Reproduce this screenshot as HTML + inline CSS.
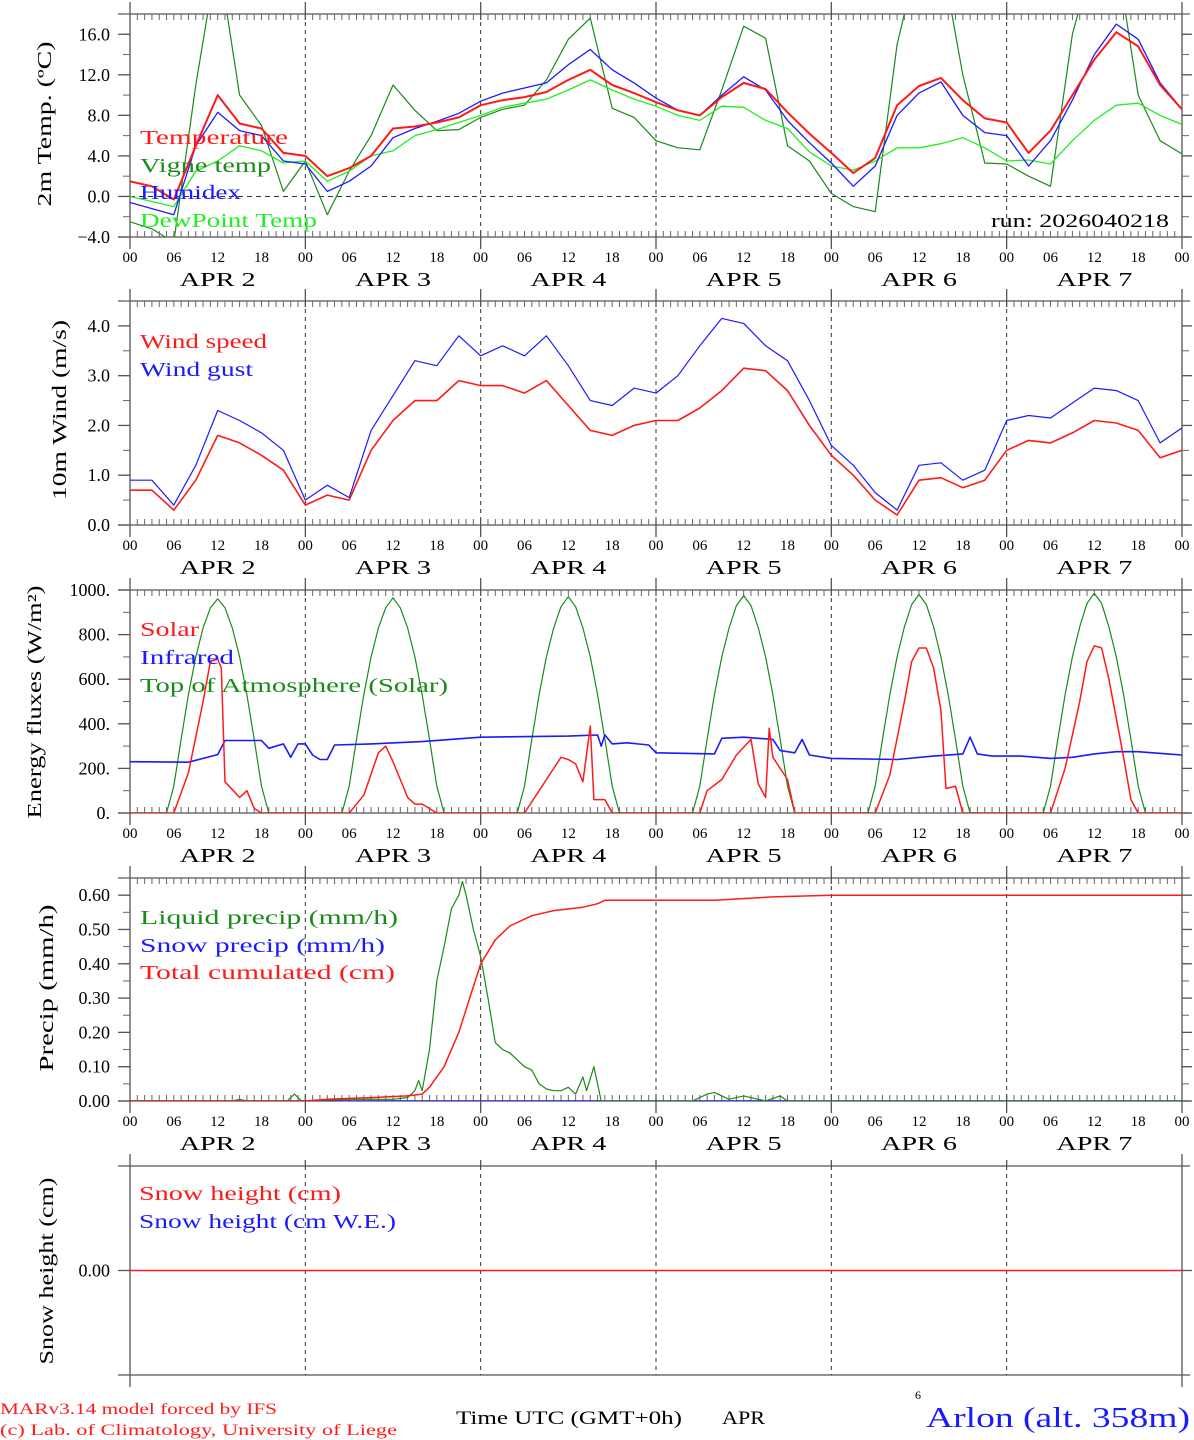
<!DOCTYPE html>
<html><head><meta charset="utf-8"><style>
html,body{margin:0;padding:0;background:#fff;}
svg{display:block;font-family:"Liberation Serif",serif;}
</style></head><body>
<svg id="chart" width="1194" height="1440" viewBox="0 0 1194 1440" xmlns="http://www.w3.org/2000/svg"></svg>
<script>
// ---- data ----
const hours3 = [0,3,6,9,12,15,18,21,24,27,30,33,36,39,42,45,48,51,54,57,60,63,66,69,72,75,78,81,84,87,90,93,96,99,102,105,108,111,114,117,120,123,126,129,132,135,138,141,144];
const dayLabels = ["APR  2","APR  3","APR  4","APR  5","APR  6","APR  7"];
const hourTickLabels = ["00","06","12","18"];
const tempVals = [1.5,1.0,-0.3,5.0,10.0,7.2,6.7,4.3,4.0,2.0,2.8,4.0,6.7,6.9,7.3,7.8,9.0,9.5,9.8,10.3,11.5,12.5,11.0,10.2,9.3,8.5,8.0,9.8,11.2,10.6,8.3,6.2,4.3,2.3,3.8,9.0,10.9,11.7,9.5,7.7,7.3,4.3,6.5,10.0,13.5,16.2,14.8,11.0,8.6];
const vigneVals = [-2.5,-3.2,-4.5,11,24,10.0,7.0,0.5,3.5,-1.8,2.5,6.0,11.0,8.5,6.5,6.6,7.8,8.6,9.0,11.5,15.5,17.6,8.7,7.8,5.5,4.8,4.6,10.5,16.8,15.6,5.0,3.5,0.3,-1.0,-1.5,15,24,24,12,3.3,3.2,2.0,1.0,16,24,24,10,5.5,4.2];
const humidexVals = [-0.6,-1.2,-1.8,5.0,8.3,6.5,6.0,3.5,3.2,0.5,1.5,3.0,5.8,6.7,7.4,8.2,9.4,10.2,10.7,11.2,13.0,14.5,12.5,11.2,9.7,8.5,8.0,10.0,11.8,10.5,7.5,5.3,3.3,1.0,3.0,8.0,10.2,11.3,8.0,6.3,6.0,3.0,5.5,9.5,14.0,17.0,15.5,11.2,8.6];
const dewVals = [0,-0.5,-1.0,2.5,3.5,5.0,4.5,3.3,3.5,1.5,2.5,4.0,4.5,6.0,6.6,7.3,8.0,8.8,9.2,9.6,10.5,11.5,10.5,9.6,8.9,8.0,7.5,8.9,8.8,7.5,6.7,4.4,3.0,2.6,3.5,4.8,4.8,5.2,5.8,4.8,3.5,3.6,3.2,5.5,7.5,9.0,9.2,8.0,7.1];
const windVals = [0.7,0.7,0.3,0.9,1.8,1.65,1.4,1.1,0.4,0.6,0.5,1.5,2.1,2.5,2.5,2.9,2.8,2.8,2.65,2.9,2.4,1.9,1.8,2.0,2.1,2.1,2.35,2.7,3.15,3.1,2.7,2.0,1.4,1.0,0.5,0.2,0.9,0.95,0.75,0.9,1.5,1.7,1.65,1.85,2.1,2.05,1.9,1.35,1.5];
const gustVals = [0.9,0.9,0.4,1.2,2.3,2.1,1.85,1.5,0.5,0.8,0.55,1.9,2.6,3.3,3.2,3.8,3.4,3.6,3.4,3.8,3.2,2.5,2.4,2.75,2.65,3.0,3.6,4.15,4.05,3.6,3.3,2.5,1.6,1.2,0.65,0.3,1.2,1.25,0.9,1.1,2.1,2.2,2.15,2.45,2.75,2.7,2.5,1.65,1.95];
const toaHours = [0,5,6,7,8,9,10,11,12,13,14,15,16,17,18,19,29,30,31,32,33,34,35,36,37,38,39,40,41,42,43,53,54,55,56,57,58,59,60,61,62,63,64,65,66,67,77,78,79,80,81,82,83,84,85,86,87,88,89,90,91,101,102,103,104,105,106,107,108,109,110,111,112,113,114,115,125,126,127,128,129,130,131,132,133,134,135,136,137,138,139,144];
const toaVals = [0,0,120,330,530,700,830,920,960,920,830,700,530,330,120,0,0,120,330,530,700,830,920,965,920,830,700,530,330,120,0,0,120,330,530,700,830,925,970,925,830,700,530,330,120,0,0,120,330,530,700,830,930,975,930,830,700,530,330,120,0,0,120,330,530,700,835,935,980,935,835,700,530,330,120,0,0,120,330,530,700,835,940,985,940,835,700,530,330,120,0,0];
const solarHours = [0,6,8,10,11,12,12.5,13,15,16,17,18,30,32,34,35,36,38,39,40,42,54,56,58,59,60,61,62,63,63.5,65,66,78,79,81,83,85,86,87,87.5,88,90,91,102,104,106,107,108,109,110,111,111.7,113,114,126,128,130,131,132,133,134,136,137,138,144];
const solarVals = [0,0,180,500,680,690,650,140,70,100,20,0,0,80,270,300,230,70,40,40,0,0,100,200,250,240,220,140,390,60,60,0,0,100,150,260,330,130,70,380,250,150,0,0,170,500,680,740,740,650,460,110,120,0,0,200,500,680,750,740,600,250,60,0,0];
const irHours = [0,8,12,13,18,19,21,22,23,24,25,26,27,28,33,40,48,60,64,64.5,65,66,68,71,72,80,81,84,88,89,91,92,93,96,105,110,114,115,116,118,122,126,129,132,135,138,142,144];
const irVals = [230,228,262,325,325,290,310,250,310,310,260,240,240,305,310,320,340,345,350,300,350,310,315,305,270,265,335,340,330,280,270,330,260,245,240,255,265,340,265,255,255,245,250,265,275,275,265,260];
const liqHours = [0,14,15,16,21.5,22.5,23.5,30,36,38,39,39.5,40,41,42,43,44,45,45.5,46,47,48,49,50,51,52,53,54,55,56,57,58,59,60,61,62,62.5,63.5,64.5,77,79,80,81,82,83,84,86,87,89,90,144];
const liqVals = [0,0,0.005,0,0,0.02,0,0.005,0.005,0.01,0.03,0.06,0.03,0.15,0.35,0.45,0.56,0.6,0.64,0.6,0.5,0.42,0.3,0.17,0.15,0.14,0.12,0.1,0.09,0.05,0.035,0.03,0.03,0.04,0.02,0.07,0.03,0.1,0,0,0.02,0.025,0.015,0.005,0.01,0.015,0.005,0,0.015,0,0];
const cumHours = [0,24,27,33,38,40,41,43,45,46.5,48,50,52,55,58,62,64,65,80,88,96,144];
const cumVals = [0,0,0.005,0.01,0.015,0.02,0.04,0.1,0.2,0.3,0.4,0.47,0.51,0.54,0.555,0.565,0.575,0.585,0.585,0.595,0.6,0.6];
const snowPrecipHours = [0,144];
const snowPrecipVals = [0,0];
const snowHours = [0,144];
const snowVals = [0,0];

// ---- helpers ----
const NS="http://www.w3.org/2000/svg";
const svg=document.getElementById('chart');
const X0=130, X1=1182;
function X(h){return X0+h*(X1-X0)/144;}
function mk(tag,attrs,parent){const e=document.createElementNS(NS,tag);for(const k in attrs)e.setAttribute(k,attrs[k]);(parent||svg).appendChild(e);return e;}
function txt(s,x,y,size,fill,anchor,len,parent){const t=mk('text',{x:x,y:y,'font-size':size,fill:fill||'#000','text-anchor':anchor||'start'},parent);if(len){t.setAttribute('textLength',len);t.setAttribute('lengthAdjust','spacingAndGlyphs');}t.textContent=s;return t;}

const panels=[
 {id:'temp',top:14,bot:237,min:-4,max:18,major:[-4,0,4,8,12,16],minorStep:2,fmt:v=>v.toFixed(1),zero:true,hourLabels:true},
 {id:'wind',top:301,bot:525,min:0,max:4.5,major:[0,1,2,3,4],minorStep:0.5,fmt:v=>v.toFixed(1),hourLabels:true},
 {id:'flux',top:590,bot:813,min:0,max:1000,major:[0,200,400,600,800,1000],minorStep:100,fmt:v=>v+'.',hourLabels:true},
 {id:'precip',top:878,bot:1101,min:0,max:0.65,major:[0,0.1,0.2,0.3,0.4,0.5,0.6],minorStep:0.05,fmt:v=>v.toFixed(2),hourLabels:true},
 {id:'snow',top:1166,bot:1375,min:-1,max:1,major:[0],minorStep:0,fmt:v=>v.toFixed(2),hourLabels:false,noHourTicks:true}
];
function Y(p,v){return p.bot-(v-p.min)/(p.max-p.min)*(p.bot-p.top);}

panels.forEach((p,pi)=>{
  const g=mk('g',{});
  
  
  const cp=mk('clipPath',{id:'clip'+pi},g);
  mk('rect',{x:X0,y:p.top,width:X1-X0,height:p.bot-p.top},cp);
  // axes
  mk('line',{x1:118,y1:p.top,x2:1190,y2:p.top,stroke:'#555','stroke-width':1.3},g);
  mk('line',{x1:118,y1:p.bot,x2:1190,y2:p.bot,stroke:'#555','stroke-width':1.3},g);
  mk('line',{x1:X0,y1:p.top-12,x2:X0,y2:p.bot+12,stroke:'#555','stroke-width':1.3},g);
  mk('line',{x1:X1,y1:p.top-12,x2:X1,y2:p.bot+12,stroke:'#555','stroke-width':1.3},g);
  // day dividers
  for(let d=1;d<6;d++){
    const l=mk('line',{x1:X(24*d),y1:p.top,x2:X(24*d),y2:p.bot,stroke:'#333','stroke-width':1,'stroke-dasharray':'4,4'},g);
    
    
    if(!p.noHourTicks){
      mk('line',{x1:X(24*d),y1:p.top-12,x2:X(24*d),y2:p.top+6,stroke:'#555','stroke-width':1.3},g);
      mk('line',{x1:X(24*d),y1:p.bot-6,x2:X(24*d),y2:p.bot+12,stroke:'#555','stroke-width':1.3},g);
    } else {
      mk('line',{x1:X(24*d),y1:p.top-6,x2:X(24*d),y2:p.top,stroke:'#555','stroke-width':1.3},g);
    }
  }
  if(!p.noHourTicks){
    for(let h=1;h<144;h++){
      if(h%24===0)continue;
      mk('line',{x1:X(h),y1:p.top,x2:X(h),y2:p.top+6,stroke:'#666','stroke-width':1},g);
      mk('line',{x1:X(h),y1:p.bot-6,x2:X(h),y2:p.bot,stroke:'#666','stroke-width':1},g);
    }
  }
  // y ticks
  if(p.minorStep){
    for(let v=p.min;v<=p.max+1e-9;v+=p.minorStep){
      const y=Y(p,v);
      mk('line',{x1:123,y1:y,x2:X0,y2:y,stroke:'#666','stroke-width':1},g);
      mk('line',{x1:X1,y1:y,x2:1189,y2:y,stroke:'#666','stroke-width':1},g);
    }
  }
  p.major.forEach(v=>{
    const y=Y(p,v);
    mk('line',{x1:118,y1:y,x2:X0,y2:y,stroke:'#555','stroke-width':1.3},g);
    mk('line',{x1:X1,y1:y,x2:1192,y2:y,stroke:'#555','stroke-width':1.3},g);
    const t=txt(p.fmt(v).replace('-','\u2212'),110,y+6,18,'#000','end',null,g);
    
    
  });
  if(p.zero){
    const z=mk('line',{x1:X0,y1:Y(p,0),x2:X1,y2:Y(p,0),stroke:'#333','stroke-width':1,'stroke-dasharray':'5,4'},g);
    
    
  }
  if(p.hourLabels){
    for(let d=0;d<6;d++){
      for(let k=0;k<4;k++){
        const t=txt(hourTickLabels[k],X(24*d+6*k),p.bot+25,15,'#000','middle',null,g);
        
        
      }
      const dl=txt(dayLabels[d],X(24*d+12),p.bot+49,20,'#000','middle',76,g);
      
      
    }
    const t=txt('00',X(144),p.bot+25,15,'#000','middle',null,g);
    
    
  }
  p.g=g;p.clip='url(#clip'+pi+')';
});

function series(p,hs,vs,color,width,name){
  const pts=hs.map((h,i)=>X(h).toFixed(1)+','+Y(p,vs[i]).toFixed(1)).join(' ');
  const l=mk('polyline',{points:pts,fill:'none',stroke:color,'stroke-width':width,'stroke-linejoin':'round','clip-path':p.clip},p.g);
  
  
}
const P=panels;
series(P[0],hours3,vigneVals,'#1a8a1a',1.2,'vigne-temp-line');
series(P[0],hours3,dewVals,'#22ee22',1.3,'dewpoint-line');
series(P[0],hours3,humidexVals,'#1a1aff',1.3,'humidex-line');
series(P[0],hours3,tempVals,'#ff1a1a',2,'temperature-line');
series(P[1],hours3,gustVals,'#1a1aff',1.2,'wind-gust-line');
series(P[1],hours3,windVals,'#ff1a1a',1.6,'wind-speed-line');
series(P[2],toaHours,toaVals,'#1a8a1a',1.2,'toa-solar-line');
series(P[2],irHours,irVals,'#1a1aff',1.6,'infrared-line');
series(P[2],solarHours,solarVals,'#ff1a1a',1.5,'solar-line');
series(P[3],snowPrecipHours,snowPrecipVals,'#1a1aff',1.5,'snow-precip-line');
series(P[3],liqHours,liqVals,'#1a8a1a',1.2,'liquid-precip-line');
series(P[3],cumHours,cumVals,'#ff1a1a',1.5,'cumulated-precip-line');
series(P[4],snowHours,snowVals,'#ff1a1a',1.6,'snow-height-line');

// legends
function legend(s,x,y,color,len,name){const t=txt(s,x,y,20,color,'start',len);}
legend('Temperature',140,144,'#ff1a1a',148,'legend-temperature');
legend('Vigne temp',140,172,'#1a8a1a',131,'legend-vigne-temp');
legend('Humidex',140,199,'#1a1aff',101,'legend-humidex');
legend('DewPoint Temp',140,227,'#22ee22',177,'legend-dewpoint');
legend('Wind speed',140,348,'#ff1a1a',127,'legend-wind-speed');
legend('Wind gust',140,376,'#1a1aff',113,'legend-wind-gust');
legend('Solar',140,636,'#ff1a1a',59,'legend-solar');
legend('Infrared',140,664,'#1a1aff',94,'legend-infrared');
legend('Top of Atmosphere (Solar)',140,692,'#1a8a1a',308,'legend-toa');
legend('Liquid precip (mm/h)',140,924,'#1a8a1a',258,'legend-liquid-precip');
legend('Snow precip (mm/h)',140,952,'#1a1aff',245,'legend-snow-precip');
legend('Total cumulated (cm)',140,979,'#ff1a1a',255,'legend-total-cumulated');
legend('Snow height (cm)',139,1200,'#ff1a1a',202,'legend-snow-height');
legend('Snow height (cm W.E.)',139,1228,'#1a1aff',257,'legend-snow-height-we');

// y-axis titles
function ytitle(s,cx,cy,len,name){const t=mk('text',{x:0,y:0,'font-size':20,'text-anchor':'middle',transform:'translate('+cx+','+cy+') rotate(-90)',textLength:len,lengthAdjust:'spacingAndGlyphs'});t.textContent=s;}
ytitle('2m Temp. (\u00BAC)',51,124,165,'y-axis-title-temp');
ytitle('10m Wind (m/s)',66,410,180,'y-axis-title-wind');
ytitle('Energy fluxes (W/m\u00B2)',41,702,233,'y-axis-title-flux');
ytitle('Precip (mm/h)',53,988,167,'y-axis-title-precip');
ytitle('Snow height (cm)',53,1271,187,'y-axis-title-snow');

// misc text
function note(s,x,y,size,color,anchor,len,name){const t=txt(s,x,y,size,color,anchor,len);}
note('run: 2026040218',991,227,19,'#000','start',178,'run-label');
note('MARv3.14 model forced by IFS',0,1414,16,'#ff1a1a','start',277,'model-credit');
note('(c) Lab. of Climatology, University of Liege',0,1435,16,'#ff1a1a','start',397,'lab-credit');
note('Time UTC (GMT+0h)',456,1424,19,'#000','start',226,'x-axis-title');
note('APR',722,1424,19,'#000','start',43,'x-axis-month');
note('6',915,1399,12,'#000','start',null,'x-axis-day-superscript');
note('Arlon (alt. 358m)',926,1427,28,'#1a1aff','start',264,'station-title');
</script>
</body></html>
